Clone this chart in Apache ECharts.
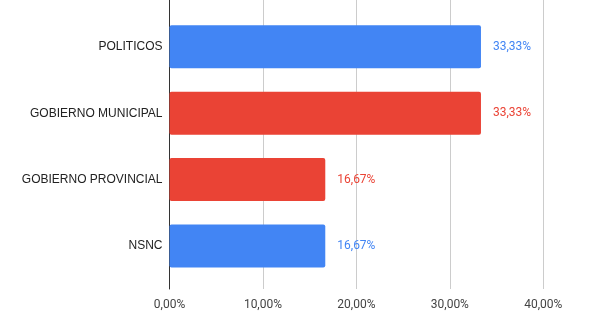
<!DOCTYPE html>
<html>
<head>
<meta charset="utf-8">
<script src="https://cdn.jsdelivr.net/npm/echarts@6/dist/echarts.min.js"></script>
<style>
  html, body { margin: 0; padding: 0; background: #fff; }
  #chart { width: 589px; height: 316px; }
</style>
</head>
<body>
<div id="chart"></div>
<script>
// datos del grafico
let categories = ["POLITICOS", "GOBIERNO MUNICIPAL", "GOBIERNO PROVINCIAL", "NSNC"];
let values = [33.33, 33.33, 16.67, 16.67];
let barColors = ["#4285F4", "#EA4335", "#EA4335", "#4285F4"];
let xTicks = [0, 10, 20, 30, 40];

function pct(v) {
    return v.toFixed(2).replace(".", ",") + "%";
}

let myChart = echarts.init(document.getElementById('chart'));

let barData = [];
for (let i = 0; i < values.length; i++) {
    barData.push({
        value: values[i],
        itemStyle: { color: barColors[i] },
        label: { color: barColors[i] }
    });
}

let option = {
    animation: false,
    grid: [
        // grid exterior: lineas de fondo y eje x
        { left: 169.5, right: 45.7, top: 0, bottom: 27 },
        // grid interior: barras
        { left: 169.5, right: 45.7, top: 13.6, bottom: 36.8 }
    ],
    xAxis: [
        {
            gridIndex: 0,
            type: 'value',
            min: xTicks[0],
            max: xTicks[xTicks.length - 1],
            interval: 10,
            axisLine: { show: false },
            axisTick: { show: false },
            splitLine: { lineStyle: { color: '#cccccc', width: 1 } },
            axisLabel: {
                formatter: function (v) { return pct(v); },
                color: '#444',
                fontFamily: 'Roboto, Arial, sans-serif',
                fontSize: 12,
                margin: 10
            }
        },
        {
            gridIndex: 1,
            type: 'value',
            min: xTicks[0],
            max: xTicks[xTicks.length - 1],
            show: false
        }
    ],
    yAxis: [
        {
            gridIndex: 0,
            type: 'value',
            axisLine: { show: true, lineStyle: { color: '#333', width: 1 } },
            axisTick: { show: false },
            axisLabel: { show: false },
            splitLine: { show: false }
        },
        {
            gridIndex: 1,
            type: 'category',
            inverse: true,
            data: categories,
            axisLine: { show: false },
            axisTick: { show: false },
            axisLabel: {
                color: '#222',
                fontFamily: 'Arial, "Liberation Sans", sans-serif',
                fontSize: 12,
                margin: 7
            }
        }
    ],
    series: [{
        type: 'bar',
        xAxisIndex: 1,
        yAxisIndex: 1,
        data: barData,
        barWidth: 43,
        itemStyle: { borderRadius: 2 },
        label: {
            show: true,
            position: 'right',
            distance: 12,
            fontFamily: 'Roboto, Arial, sans-serif',
            fontSize: 12,
            formatter: function (p) { return pct(p.value); }
        }
    }]
};
myChart.setOption(option);
</script>
</body>
</html>
